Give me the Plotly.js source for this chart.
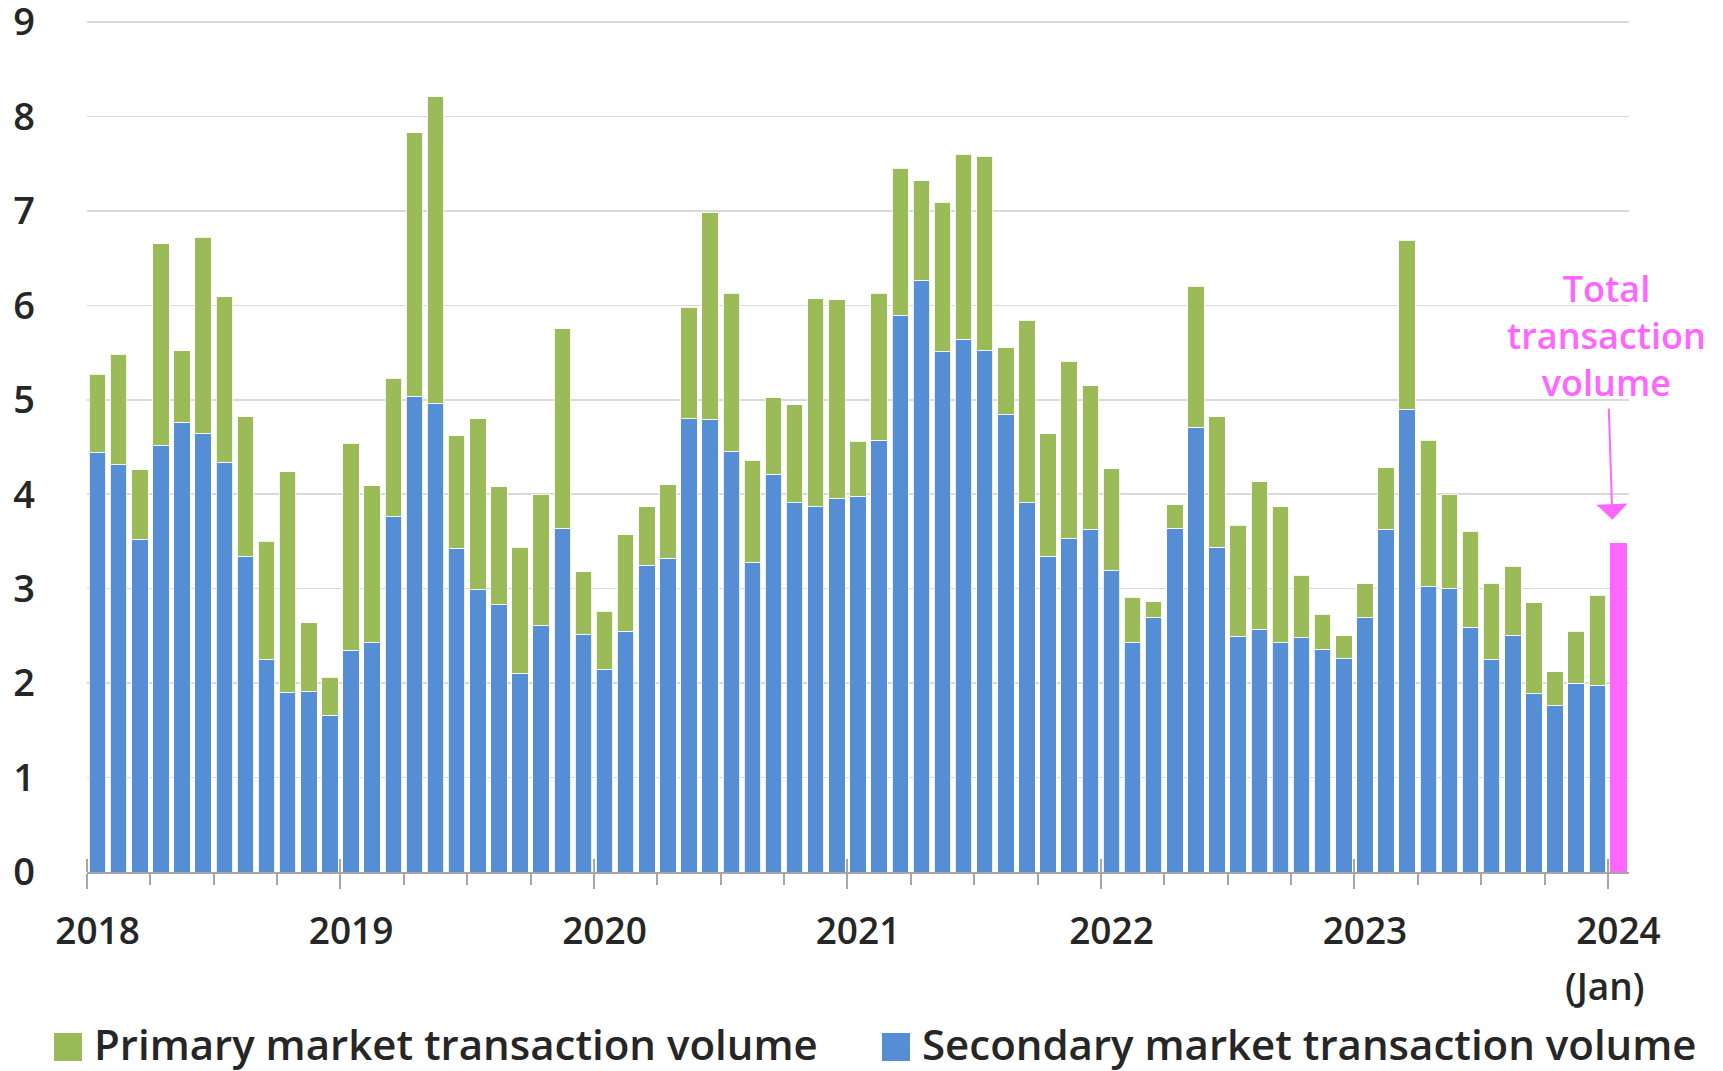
<!DOCTYPE html>
<html>
<head>
<meta charset="utf-8">
<script src="https://cdn.plot.ly/plotly-3.0.1.min.js"></script>
<style>
  html, body { margin: 0; padding: 0; background: #ffffff; }
  #chart { width: 1723px; height: 1071px; }
</style>
</head>
<body>
<div id="chart"></div>
<script>
// ---------------- DATA ----------------
const years = ['2018', '2019', '2020', '2021', '2022', '2023'];
const monthNames = ['Jan', 'Feb', 'Mar', 'Apr', 'May', 'Jun', 'Jul', 'Aug', 'Sep', 'Oct', 'Nov', 'Dec'];

// Secondary market transaction volume (blue, bottom of stack), Jan 2018 - Dec 2023
const secondary = [
  4.44, 4.31, 3.52, 4.52, 4.76, 4.64, 4.34, 3.34, 2.25, 1.90, 1.91, 1.66,
  2.35, 2.43, 3.76, 5.04, 4.96, 3.43, 2.99, 2.83, 2.10, 2.61, 3.64, 2.51,
  2.14, 2.55, 3.25, 3.32, 4.80, 4.79, 4.45, 3.28, 4.21, 3.91, 3.87, 3.95,
  3.98, 4.57, 5.89, 6.26, 5.51, 5.64, 5.52, 4.84, 3.91, 3.34, 3.53, 3.63,
  3.19, 2.43, 2.70, 3.64, 4.71, 3.44, 2.49, 2.57, 2.43, 2.48, 2.36, 2.26,
  2.69, 3.63, 4.90, 3.02, 3.00, 2.59, 2.25, 2.50, 1.89, 1.76, 2.00, 1.98
];

// Primary market transaction volume (green, top of stack), Jan 2018 - Dec 2023
const primary = [
  0.83, 1.17, 0.74, 2.13, 0.76, 2.08, 1.75, 1.48, 1.25, 2.34, 0.73, 0.40,
  2.19, 1.66, 1.47, 2.79, 3.25, 1.19, 1.81, 1.25, 1.34, 1.39, 2.11, 0.67,
  0.62, 1.02, 0.62, 0.78, 1.18, 2.19, 1.68, 1.08, 0.81, 1.04, 2.20, 2.11,
  0.58, 1.56, 1.56, 1.06, 1.58, 1.96, 2.06, 0.71, 1.93, 1.30, 1.88, 1.52,
  1.08, 0.48, 0.16, 0.25, 1.49, 1.38, 1.18, 1.56, 1.44, 0.66, 0.37, 0.24,
  0.36, 0.65, 1.79, 1.55, 1.00, 1.02, 0.81, 0.74, 0.96, 0.36, 0.55, 0.95
];

// Latest month: total transaction volume only (pink)
const latestMonth = ['Jan 2024'];
const latestTotal = [3.48];

// Axis tick labels
const yearTickText = ['2018', '2019', '2020', '2021', '2022', '2023', '2024'];
const latestSubLabel = '(Jan)';

const seriesNames = {
  primary: 'Primary market transaction volume',
  secondary: 'Secondary market transaction volume',
  total: 'Total transaction volume'
};
const annotationText = 'Total<br>transaction<br>volume';

// ---------------- STYLE ----------------
const COLORS = { primary: '#9BBB59', secondary: '#558ED5', total: '#FF66FF', axis: '#A6A6A6', grid: '#D9D9D9', text: '#262626' };
const FONT = 'Open Sans, Noto Sans, DejaVu Sans, sans-serif';

// ---------------- BUILD ----------------
const months = [];
years.forEach(y => monthNames.forEach(m => months.push(m + ' ' + y)));
const xIdx = months.map((_, i) => i);
const latestIdx = [months.length];

const yearStartIdx = yearTickText.map((_, i) => i * 12);
const yearBoundaries = years.map((_, i) => i * 12 - 0.5).concat([years.length * 12 - 0.5]);
const quarterBoundaries = [];
for (let k = 0; k < years.length * 4; k++) {
  if (k % 4 !== 0) quarterBoundaries.push(k * 3 - 0.5);
}
const xRange = [-0.5, months.length + 0.5];
const yMax = 9;

const barLine = { color: 'rgba(255,255,255,0.85)', width: 1 };

const traces = [
  {
    type: 'bar', name: seriesNames.secondary, x: xIdx, y: secondary,
    text: months, hovertemplate: '%{text}<br>%{y}<extra>Secondary</extra>', textposition: 'none',
    marker: { color: COLORS.secondary, line: barLine }
  },
  {
    type: 'bar', name: seriesNames.primary, x: xIdx, y: primary,
    text: months, hovertemplate: '%{text}<br>%{y}<extra>Primary</extra>', textposition: 'none',
    marker: { color: COLORS.primary, line: barLine }
  },
  {
    type: 'bar', name: seriesNames.total, x: latestIdx, y: latestTotal,
    text: latestMonth, hovertemplate: '%{text}<br>%{y}<extra>Total</extra>', textposition: 'none',
    marker: { color: COLORS.total, line: { width: 0 } }
  },
  // empty helper trace so the year-label axis (x2) is drawn
  { type: 'scatter', mode: 'markers', x: [], y: [], xaxis: 'x2', yaxis: 'y', showlegend: false, hoverinfo: 'skip' }
];

// plot area geometry (px)
const M = { l: 87, r: 94, t: 20, b: 199 };
const W = 1723, H = 1071;
const PW = W - M.l - M.r, PH = H - M.t - M.b;
const px2x = px => (px - M.l) / PW;
const px2y = py => (H - M.b - py) / PH;
// extend the range a hair so that the top gridline at 9 is kept
const yTop = yMax * PH / (PH - 2);

const tickFont = { family: FONT, size: 37, color: COLORS.text, weight: 600 };

const layout = {
  width: W, height: H,
  margin: M,
  paper_bgcolor: '#ffffff', plot_bgcolor: '#ffffff',
  barmode: 'stack', bargap: 0.22,
  showlegend: false,
  font: { family: FONT, size: 37, color: COLORS.text, weight: 600 },
  xaxis: {
    range: xRange, fixedrange: true,
    tickmode: 'array', tickvals: yearBoundaries, showticklabels: false,
    ticks: 'outside', ticklen: 15, tickwidth: 2, tickcolor: COLORS.axis,
    minor: { tickmode: 'array', tickvals: quarterBoundaries, ticks: 'outside', ticklen: 11, tickwidth: 2, tickcolor: COLORS.axis, showgrid: false },
    showline: true, linecolor: COLORS.axis, linewidth: 2,
    showgrid: false, zeroline: false
  },
  xaxis2: {
    overlaying: 'x', anchor: 'y', side: 'bottom',
    range: xRange, fixedrange: true,
    tickmode: 'array', tickvals: yearStartIdx, ticktext: yearTickText,
    ticks: '', tickfont: tickFont, ticklabelstandoff: 34, ticklabeloverflow: 'allow',
    minor: { tickmode: 'array', tickvals: yearBoundaries, ticks: 'inside', ticklen: 13, tickwidth: 2, tickcolor: COLORS.axis, showgrid: false },
    showline: false, showgrid: false, zeroline: false
  },
  yaxis: {
    range: [0, yTop], fixedrange: true,
    tickmode: 'linear', tick0: 0, dtick: 1,
    ticks: '', tickfont: { family: FONT, size: 38, color: COLORS.text, weight: 600 },
    ticklabelstandoff: 51, ticklabeloverflow: 'allow',
    showgrid: true, gridcolor: COLORS.grid, gridwidth: 1.5,
    zeroline: false, showline: false
  },
  shapes: [
    { type: 'rect', xref: 'paper', yref: 'paper', x0: px2x(54), x1: px2x(82), y0: px2y(1061), y1: px2y(1033), fillcolor: COLORS.primary, line: { width: 0 } },
    { type: 'rect', xref: 'paper', yref: 'paper', x0: px2x(882), x1: px2x(910), y0: px2y(1061), y1: px2y(1033), fillcolor: COLORS.secondary, line: { width: 0 } }
  ],
  annotations: [
    {
      xref: 'x', yref: 'y', x: latestIdx[0], y: 3.73, xshift: -6,
      text: annotationText, showarrow: true,
      axref: 'pixel', ayref: 'pixel', ax: -6, ay: -184,
      arrowcolor: COLORS.total, arrowwidth: 2, arrowhead: 1, arrowsize: 2.6,
      font: { family: FONT, size: 36, color: COLORS.total, weight: 600 },
      align: 'center'
    },
    {
      xref: 'x', yref: 'paper', x: latestIdx[0], xshift: -13, y: px2y(985), yanchor: 'middle',
      text: latestSubLabel, showarrow: false,
      font: tickFont
    },
    {
      xref: 'paper', yref: 'paper', x: px2x(92), y: px2y(1043), xanchor: 'left', yanchor: 'middle',
      text: seriesNames.primary, showarrow: false,
      font: { family: FONT, size: 42, color: COLORS.text, weight: 600 }
    },
    {
      xref: 'paper', yref: 'paper', x: px2x(920), y: px2y(1043), xanchor: 'left', yanchor: 'middle',
      text: seriesNames.secondary, showarrow: false,
      font: { family: FONT, size: 42, color: COLORS.text, weight: 600 }
    }
  ]
};

Plotly.newPlot('chart', traces, layout, { displayModeBar: false, staticPlot: true });
</script>
</body>
</html>
